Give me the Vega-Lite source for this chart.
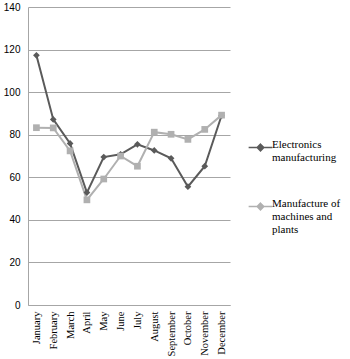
{
  "$schema": "https://vega.github.io/schema/vega-lite/v6.json",
  "width": 202,
  "height": 298,
  "autosize": {"type": "none"},
  "padding": {"left": 28, "top": 7, "right": 120, "bottom": 54},
  "background": "white",
  "data": {
    "values": [
      {"month": "January", "series": "Electronics manufacturing", "value": 117.3},
      {"month": "February", "series": "Electronics manufacturing", "value": 87.2},
      {"month": "March", "series": "Electronics manufacturing", "value": 75.9},
      {"month": "April", "series": "Electronics manufacturing", "value": 52.8},
      {"month": "May", "series": "Electronics manufacturing", "value": 69.5},
      {"month": "June", "series": "Electronics manufacturing", "value": 70.8},
      {"month": "July", "series": "Electronics manufacturing", "value": 75.5},
      {"month": "August", "series": "Electronics manufacturing", "value": 72.6},
      {"month": "September", "series": "Electronics manufacturing", "value": 68.9},
      {"month": "October", "series": "Electronics manufacturing", "value": 55.6},
      {"month": "November", "series": "Electronics manufacturing", "value": 65.2},
      {"month": "December", "series": "Electronics manufacturing", "value": 89.0},
      {"month": "January", "series": "Manufacture of machines and plants", "value": 83.3},
      {"month": "February", "series": "Manufacture of machines and plants", "value": 83.2},
      {"month": "March", "series": "Manufacture of machines and plants", "value": 72.4},
      {"month": "April", "series": "Manufacture of machines and plants", "value": 49.4},
      {"month": "May", "series": "Manufacture of machines and plants", "value": 59.2},
      {"month": "June", "series": "Manufacture of machines and plants", "value": 70.0},
      {"month": "July", "series": "Manufacture of machines and plants", "value": 65.2},
      {"month": "August", "series": "Manufacture of machines and plants", "value": 81.2},
      {"month": "September", "series": "Manufacture of machines and plants", "value": 80.2},
      {"month": "October", "series": "Manufacture of machines and plants", "value": 77.8},
      {"month": "November", "series": "Manufacture of machines and plants", "value": 82.5},
      {"month": "December", "series": "Manufacture of machines and plants", "value": 89.2}
    ]
  },
  "encoding": {
    "x": {
      "field": "month", "type": "ordinal", "sort": null,
      "scale": {"type": "point", "padding": 0.5},
      "axis": {
        "title": null, "labelAngle": -90, "labelFont": "Liberation Serif",
        "labelFontSize": 10.5, "labelColor": "#000", "ticks": false,
        "labelPadding": 6, "domainColor": "#a6a6a6", "grid": false
      }
    },
    "y": {
      "field": "value", "type": "quantitative",
      "scale": {"domain": [0, 140]},
      "axis": {
        "title": null, "values": [0, 20, 40, 60, 80, 100, 120, 140],
        "labelFont": "Liberation Sans", "labelFontSize": 10, "labelColor": "#000",
        "ticks": false, "labelPadding": 8, "domainColor": "#a6a6a6",
        "gridColor": "#a6a6a6", "gridWidth": 1
      }
    },
    "color": {
      "field": "series", "type": "nominal",
      "scale": {"range": ["#5a5a5a", "#b0b0b0"]},
      "legend": {
        "title": null, "orient": "none", "legendX": 224, "legendY": 132,
        "labelFont": "Liberation Serif", "labelFontSize": 11, "labelColor": "#000",
        "symbolType": "M-1.6,0H1.6M0,-0.45L0.45,0L0,0.45L-0.45,0Z",
        "symbolSize": 220, "symbolStrokeWidth": 1.5,
        "labelBaseline": "alphabetic", "labelOffset": 3, "rowPadding": 34,
        "labelExpr": "datum.label == 'Electronics manufacturing' ? ['Electronics', 'manufacturing'] : ['Manufacture of', 'machines and', 'plants']"
      }
    }
  },
  "layer": [
    {"mark": {"type": "line", "strokeWidth": 2}},
    {"mark": {"type": "point", "filled": true, "opacity": 1, "size": 45},
     "encoding": {"shape": {"field": "series", "type": "nominal", "scale": {"range": ["diamond", "square"]}, "legend": null}}}
  ],
  "config": {"view": {"stroke": null}}
}
